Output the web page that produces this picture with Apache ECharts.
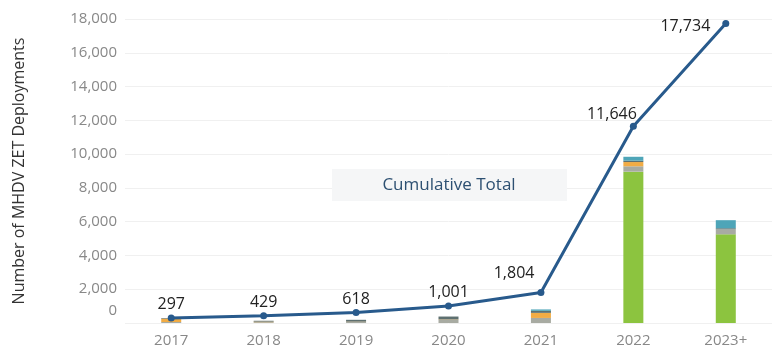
<!DOCTYPE html>
<html><head><meta charset="utf-8">
<script src="https://cdn.jsdelivr.net/npm/echarts@6/dist/echarts.min.js"></script>
<style>html,body{margin:0;padding:0;background:#fff}#c{width:779px;height:358px}</style>
</head><body><div id="c"></div>
<script>
const categories = ['2017','2018','2019','2020','2021','2022','2023+'];
const cumulative = [297, 429, 618, 1001, 1804, 11646, 17734];
const segGreen  = [0, 0, 0, 0, 0, 8960, 5250];
const segGray   = [60, 50, 60, 190, 300, 320, 300];
const segOrange = [200, 30, 20, 20, 300, 250, 0];
const segSlate  = [37, 52, 109, 173, 120, 80, 60];
const segTeal   = [0, 0, 0, 0, 83, 232, 478];
const yTicks = [0, 2000, 4000, 6000, 8000, 10000, 12000, 14000, 16000, 18000];

const font = "'Open Sans', 'Noto Sans', sans-serif";
const chart = echarts.init(document.getElementById('c'));
const barBase = {type:'bar', stack:'s', barWidth:20, silent:true};
const labelOverrides = {
  4: {position:'left', distance:3, offset:[0,-19]},
  5: {position:'left', distance:-7, offset:[0,-12]},
  6: {position:'left', distance:12, offset:[0,3]}
};
chart.setOption({
  animation:false,
  grid:{left:125, right:7, top:19, bottom:35},
  xAxis:{type:'category', data:categories, axisLine:{show:false}, axisTick:{show:false},
    axisLabel:{color:'#888', fontSize:15, fontFamily:font, margin:10}},
  yAxis:{type:'value', min:yTicks[0], max:yTicks[yTicks.length-1], interval:2000,
    name:'Number of MHDV ZET Deployments', nameLocation:'middle', nameGap:98,
    nameTextStyle:{color:'#333', fontSize:16, fontFamily:font},
    axisLine:{show:false}, axisTick:{show:false},
    splitLine:{lineStyle:{color:'#f0f0f0', width:1}},
    axisLabel:{color:'#888', fontSize:15, fontFamily:font, margin:8,
      formatter: v => v === 0 ? '{z|0}' : v.toLocaleString('en-US'),
      rich:{z:{color:'#888', fontSize:15, fontFamily:font, padding:[0,0,24,0]}}}},
  graphic:[
    {type:'rect', z:100, shape:{x:332, y:169, width:235, height:32}, style:{fill:'#f5f6f7'}, silent:true},
    {type:'text', z:101, x:449, y:185, style:{text:'Cumulative Total', fill:'#2d5072', font:"17px "+font, align:'center', verticalAlign:'middle'}}
  ],
  series:[
    Object.assign({}, barBase, {name:'g', data:segGreen, itemStyle:{color:'#8cc43f'}}),
    Object.assign({}, barBase, {name:'gr', data:segGray, itemStyle:{color:'#a8aba2'}}),
    Object.assign({}, barBase, {name:'o', data:segOrange, itemStyle:{color:'#f2ac44'}}),
    Object.assign({}, barBase, {name:'sl', data:segSlate, itemStyle:{color:'#5e7070'}}),
    Object.assign({}, barBase, {name:'t', data:segTeal, itemStyle:{color:'#4ea5b8'}}),
    {type:'line', name:'Cumulative Total', z:10,
      data: cumulative.map((v,i) => labelOverrides[i] ? {value:v, label:labelOverrides[i]} : v),
      symbol:'circle', symbolSize:7,
      lineStyle:{color:'#285a8c', width:3}, itemStyle:{color:'#285a8c'},
      label:{show:true, position:'top', distance:2, color:'#222', fontSize:16, fontFamily:font,
        formatter: p => p.value.toLocaleString('en-US')}}
  ]
});
</script></body></html>
